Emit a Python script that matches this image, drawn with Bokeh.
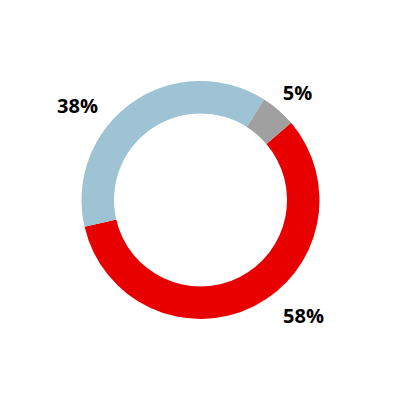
import numpy as np
from bokeh.plotting import figure
from bokeh.models import Range1d, ColumnDataSource
from bokeh.core.properties import value
from bokeh.embed import file_html
from bokeh.resources import INLINE

categories = ["Red", "Blue", "Gray"]
shares = [57.6, 37.6, 4.8]
labels = ["58%", "38%", "5%"]
colors = ["#E80000", "#9DC3D4", "#A0A0A0"]
label_x = [303, 77, 297]
label_y = [84.7, 294.7, 308.0]

start_deg = 40.4
spans = np.array(shares) / sum(shares) * 360.0
ends_cum = start_deg - np.cumsum(spans)
starts = np.concatenate([[start_deg], ends_cum[:-1]])

src = ColumnDataSource(dict(
    cat=categories,
    start=np.radians(starts),
    end=np.radians(ends_cum),
    color=colors,
))

p = figure(width=384, height=384, output_backend="svg", toolbar_location=None,
           x_range=Range1d(0, 384), y_range=Range1d(16, 400), min_border=0)
p.annular_wedge(x=200, y=200.5, inner_radius=86.5, outer_radius=119,
                start_angle="start", end_angle="end", direction="clock",
                fill_color="color", line_color=None, source=src)

lsrc = ColumnDataSource(dict(x=label_x, y=label_y, t=labels))
p.text(x="x", y="y", text="t", source=lsrc, text_font=value("Open Sans"),
       text_font_style="bold", text_font_size="20px", text_align="center",
       text_baseline="alphabetic", text_color="#000000")

p.axis.visible = False
p.grid.visible = False
p.outline_line_color = None
p.background_fill_color = "white"
p.border_fill_color = "white"

open("out.html", "w").write(file_html(p, INLINE))
